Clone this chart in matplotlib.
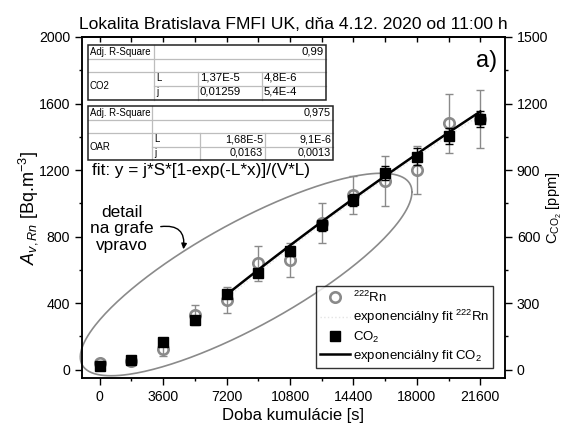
import numpy as np
import matplotlib.pyplot as plt
from matplotlib.lines import Line2D
from matplotlib.patches import Rectangle
from matplotlib.ticker import MultipleLocator

plt.rcParams['font.family'] = ['Liberation Sans', 'DejaVu Sans']
plt.rcParams['mathtext.fontset'] = 'custom'
plt.rcParams['mathtext.rm'] = 'Liberation Sans'
plt.rcParams['mathtext.it'] = 'Liberation Sans:italic'
plt.rcParams['mathtext.bf'] = 'Liberation Sans:bold'

# measurement times [s]
time_s = [0, 1800, 3600, 5400, 7200, 9000, 10800, 12600, 14400, 16200, 18000, 19800, 21600]
# radon volume activity [Bq/m3] and its uncertainty
rn_activity = [40, 55, 125, 330, 420, 640, 660, 880, 1050, 1135, 1200, 1480, 1505]
rn_err = [12, 15, 40, 60, 80, 105, 100, 120, 115, 150, 145, 175, 175]
# CO2 concentration [ppm] and its uncertainty
co2_ppm = [15, 45, 123, 222, 340, 437, 533, 652, 765, 887, 961, 1055, 1130]
co2_err = [5, 6, 8, 12, 15, 18, 22, 25, 28, 32, 38, 36, 36]

# exponential fit parameters, fitted from 7200 s on
co2_fit_L = 1.37e-5
co2_fit_t0 = 7200
co2_fit_y0 = 338
co2_fit_rate = 0.0632
rn_fit_L = 1.68e-5
rn_fit_t0 = 7200
rn_fit_y0 = 430
rn_fit_rate = 0.086

# fit tables
table_co2 = [['Adj. R-Square', '0,99'],
             ['CO2', 'L', '1,37E-5', '4,8E-6'],
             ['', 'j', '0,01259', '5,4E-4']]
table_oar = [['Adj. R-Square', '0,975'],
             ['OAR', 'L', '1,68E-5', '9,1E-6'],
             ['', 'j', '0,0163', '0,0013']]

W, H = 566, 434
fig = plt.figure(figsize=(W / 100, H / 100), dpi=100)
ax = fig.add_axes([82 / W, 1 - 378 / H, 423 / W, 341 / H])
ax2 = ax.twinx()

grey = '#8a8a8a'

# radon fit (drawn very light)
tf = np.linspace(rn_fit_t0, time_s[-1], 100)
rn_fit = rn_fit_y0 + rn_fit_rate * (1 - np.exp(-rn_fit_L * (tf - rn_fit_t0))) / rn_fit_L
rn_fit_line, = ax.plot(tf, rn_fit, ls=':', color='#e4e4e4', lw=1, zorder=1)

ax.errorbar(time_s, rn_activity, yerr=rn_err, fmt='none', ecolor=grey,
            elinewidth=1, capsize=3, capthick=1, zorder=2)
rn_pts, = ax.plot(time_s, rn_activity, ls='none', marker='o', ms=7.5, mfc='none',
                  mec=grey, mew=1.9, zorder=3)

ax2.errorbar(time_s, co2_ppm, yerr=co2_err, fmt='none', ecolor='black',
             elinewidth=1, capsize=3, capthick=1, zorder=2)
co2_pts, = ax2.plot(time_s, co2_ppm, ls='none', marker='s', ms=7, color='black', zorder=3)
cf = np.linspace(co2_fit_t0, time_s[-1], 100)
co2_fit = co2_fit_y0 + co2_fit_rate * (1 - np.exp(-co2_fit_L * (cf - co2_fit_t0))) / co2_fit_L
co2_fit_line, = ax2.plot(cf, co2_fit, color='black', lw=1.8, zorder=4)

ax.set_xlim(-1000, 23000)
ax.set_ylim(-50, 2000)
ax2.set_ylim(-37.5, 1500)

ax.xaxis.set_major_locator(MultipleLocator(3600))
ax.xaxis.set_minor_locator(MultipleLocator(1800))
ax.yaxis.set_major_locator(MultipleLocator(400))
ax.yaxis.set_minor_locator(MultipleLocator(200))
ax2.yaxis.set_major_locator(MultipleLocator(300))
ax2.yaxis.set_minor_locator(MultipleLocator(150))

for a in (ax, ax2):
    a.tick_params(which='major', direction='out', length=5, width=1, labelsize=10.2)
    a.tick_params(which='minor', direction='out', length=2.5, width=1)
    for s in a.spines.values():
        s.set_linewidth(1.1)

top = ax.secondary_xaxis('top')
top.xaxis.set_major_locator(MultipleLocator(1800))
top.tick_params(direction='in', length=3.5, width=1, labeltop=False)
top.spines['top'].set_linewidth(1.1)

ax.set_title('Lokalita Bratislava FMFI UK, dňa 4.12. 2020 od 11:00 h', fontsize=12.6, pad=6)
ax.set_xlabel('Doba kumulácie [s]', fontsize=12, labelpad=3)
ax.set_ylabel(r'$A_{v,Rn}$ [Bq.m$^{-3}$]', fontsize=13)
ax.yaxis.set_label_coords(-0.10, 0.5)
ax2.set_ylabel(r'$\mathrm{C_{CO_2}}$ [ppm]', fontsize=10.5)
ax2.yaxis.set_label_coords(1.0946, 0.5)

leg = ax2.legend([rn_pts, rn_fit_line, co2_pts, co2_fit_line],
                 [r'$^{222}$Rn', r'exponenciálny fit $^{222}$Rn', r'CO$_2$',
                  r'exponenciálny fit CO$_2$'],
                 loc='lower right', bbox_to_anchor=(411 / 423, 10 / 341),
                 borderaxespad=0, fontsize=9.5, frameon=True, fancybox=False,
                 edgecolor='black', handlelength=2.3, handletextpad=0.2,
                 labelspacing=0.25, borderpad=0.3)
leg.get_frame().set_linewidth(1)

# ellipse marking the detailed region
t = np.linspace(0, 2 * np.pi, 300)
ex = 0.388 + 0.392 * np.cos(t)
ey = 0.3035 + 0.242 * np.cos(t) + 0.172 * np.sin(t)
ax.plot(ex, ey, color=grey, lw=1.2, transform=ax.transAxes, clip_on=False, zorder=1)

ax.text(122, H - 229, 'detail\nna grafe\nvpravo', transform=None, fontsize=12.4,
        ha='center', va='center', linespacing=1.15)
ax.annotate('', xy=(183, H - 252), xycoords='figure pixels',
            xytext=(158, H - 227), textcoords='figure pixels',
            arrowprops=dict(arrowstyle='-|>', connectionstyle='arc3,rad=-0.7',
                            color='black', lw=1, mutation_scale=8))

fig.text(497 / W, 1 - 61 / H, 'a)', fontsize=17, ha='right', va='center')
fig.text(92 / W, 1 - 170 / H, 'fit: y = j*S*[1-exp(-L*x)]/(V*L)', fontsize=12.3,
         ha='left', va='center')


def fline(xs, ys, color, lw):
    fig.add_artist(Line2D([x / W for x in xs], [1 - y / H for y in ys],
                          color=color, lw=lw, zorder=6))


def draw_table(rows, cols, data, align_right, numsize):
    left, right = cols[0], cols[-1]
    fig.add_artist(Rectangle((left / W, 1 - rows[-1] / H), (right - left) / W,
                             (rows[-1] - rows[0]) / H, facecolor='white',
                             edgecolor='none', zorder=5))
    lc = '#bdbdbd'
    fline([left, right], [rows[1]] * 2, lc, 0.9)
    fline([left, right], [rows[2]] * 2, lc, 0.9)
    fline([cols[1], right], [rows[3]] * 2, lc, 0.9)
    fline([cols[1]] * 2, [rows[0], rows[4]], lc, 0.9)
    fline([cols[2]] * 2, [rows[2], rows[4]], lc, 0.9)
    fline([cols[3]] * 2, [rows[2], rows[4]], lc, 0.9)
    fig.add_artist(Rectangle((left / W, 1 - rows[-1] / H), (right - left) / W,
                             (rows[-1] - rows[0]) / H, facecolor='none',
                             edgecolor='#222222', lw=1.1, zorder=7))

    def cell(x, y, s, ha, size):
        fig.text(x / W, 1 - y / H, s, fontsize=size, ha=ha, va='center', zorder=8)

    r0 = (rows[0] + rows[1]) / 2
    cell(left + 2, r0, data[0][0], 'left', 6.9)
    cell(right - 2, r0, data[0][1], 'right', numsize)
    cell(left + 2, rows[3], data[1][0], 'left', 6.9)
    for k, r in enumerate((1, 2)):
        y = (rows[2 + k] + rows[3 + k]) / 2 - 1
        cell(cols[1] + 2, y, data[r][1], 'left', 6.9)
        if align_right:
            cell(cols[3] - 2, y, data[r][2], 'right', numsize)
            cell(cols[4] - 2, y, data[r][3], 'right', numsize)
        else:
            cell(cols[2] + 2, y, data[r][2], 'left', numsize)
            cell(cols[3] + 2, y, data[r][3], 'left', numsize)


draw_table([45, 59, 72, 86, 100], [88, 154, 198, 262, 326], table_co2, False, 8.2)
draw_table([106, 120, 133, 147, 160], [88, 152, 200, 265, 333], table_oar, True, 7.8)

fig.savefig('out.png', dpi=100)
